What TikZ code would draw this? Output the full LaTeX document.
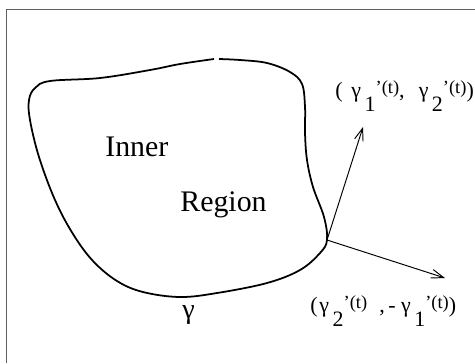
\documentclass[tikz,border=0pt]{standalone}
\usepackage{fontspec}
\setmainfont{Liberation Serif}
\usetikzlibrary{arrows.meta,positioning}
\definecolor{FrameGray}{RGB}{95,95,95}

\tikzset{
  curveline/.style={line width=1pt,line join=round},
  vecarrow/.style={line width=.55pt,-{Straight Barb[length=7pt,width=5pt]}},
  bigtext/.style={anchor=base west,inner sep=0pt,font=\fontsize{17}{20}\selectfont},
  veclabel/.style={anchor=base west,inner sep=0pt,font=\fontsize{12.5}{14}\selectfont}
}
% gamma with a lowered index and a raised '(t)
\newcommand{\gprime}[1]{γ\hspace{2pt}\raisebox{-8.5pt}{#1}\raisebox{2pt}{\fontsize{10.5}{11}\selectfont'(t)}}

\begin{document}
\begin{tikzpicture}[x=0.02cm,y=-0.02cm]
  \useasboundingbox (0,0) rectangle (475,363);
  \draw[FrameGray,line width=.6pt] (6.5,363) |- (475,9.5);

  % the closed curve, with a small gap at the top
  \draw[curveline] plot[smooth,tension=.6] coordinates {
    (219,59) (240,60) (267,63) (290,72) (302,84) (305,107) (305,133)
    (307,160) (313,187) (324,217) (327,240) (320,253) (300,270)
    (267,283) (217,293) (180,297) (143,292) (117,281) (93,261)
    (73,234) (55,200) (39,157) (30,120) (29,100) (35,88) (50,81)
    (100,78) (150,70) (180,64) (214,59)};

  \coordinate (pt) at (327,240);
  \coordinate (tang) at (363,127);
  \coordinate (norm) at (445,278);
  \draw[vecarrow] (pt) -- (tang);
  \draw[vecarrow] (pt) -- (norm);

  \node[bigtext] (inner) at (105,156) {Inner};
  \node[bigtext] (region) at (180,211) {Region};
  \node[bigtext,font=\fontsize{16}{18}\selectfont] (gamma) at (182,318) {γ};

  \node[veclabel] (tanglabel) at (335,97)
    {(\hspace{5pt}\gprime{1},\hspace{8pt}\gprime{2})};
  \node[veclabel] (normlabel) at (310,312)
    {(\hspace{1pt}\gprime{2}\hspace{7pt},\hspace{2pt}-\hspace{3pt}\gprime{1})};
\end{tikzpicture}
\end{document}
